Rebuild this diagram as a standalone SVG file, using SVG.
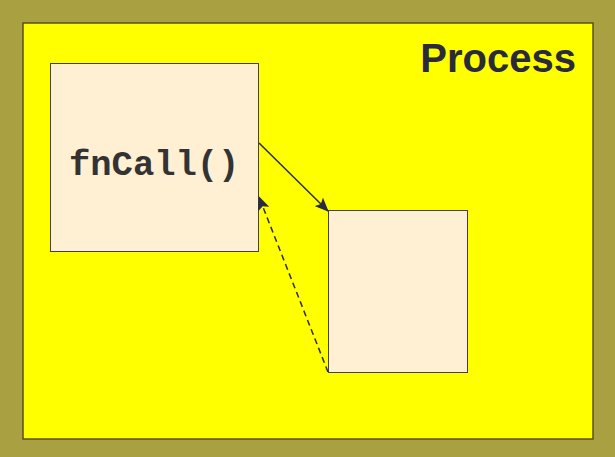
<svg xmlns="http://www.w3.org/2000/svg" width="615" height="457" viewBox="0 0 615 457">
<style>
.box{fill:#FFEFD3;stroke:#404050;stroke-width:1}
.conn{stroke:#2a2a40;stroke-width:1.5;fill:none}
</style>
<defs>
<marker id="ah" markerWidth="14" markerHeight="12" refX="13" refY="6" orient="auto" markerUnits="userSpaceOnUse">
<path d="M0,0 L14,6 L0,12 L3,6 z" fill="#2a2a40"/>
</marker>
</defs>
<rect x="0" y="0" width="615" height="457" fill="#A9A042"/>
<g id="process">
<rect x="23" y="23" width="570" height="416" fill="#FFFF00" stroke="#5a5020" stroke-width="1.5"/>
<text x="576" y="72" text-anchor="end" font-family="Liberation Sans, Arial, sans-serif" font-weight="bold" font-size="40" fill="#2a2a3a">Process</text>
</g>
<g id="caller">
<rect class="box" x="50.5" y="63.5" width="208" height="188"/>
<text x="69" y="175" font-family="Liberation Mono, Courier New, monospace" font-weight="bold" font-size="35.5" fill="#333">fnCall()</text>
</g>
<g id="callee">
<rect class="box" x="328.5" y="210.5" width="139" height="162"/>
</g>
<g id="connectors">
<line class="conn" x1="259" y1="143" x2="328" y2="211" marker-end="url(#ah)"/>
<line class="conn" x1="328" y1="372" x2="259" y2="197" stroke-dasharray="6,4" marker-end="url(#ah)"/>
</g>
</svg>
